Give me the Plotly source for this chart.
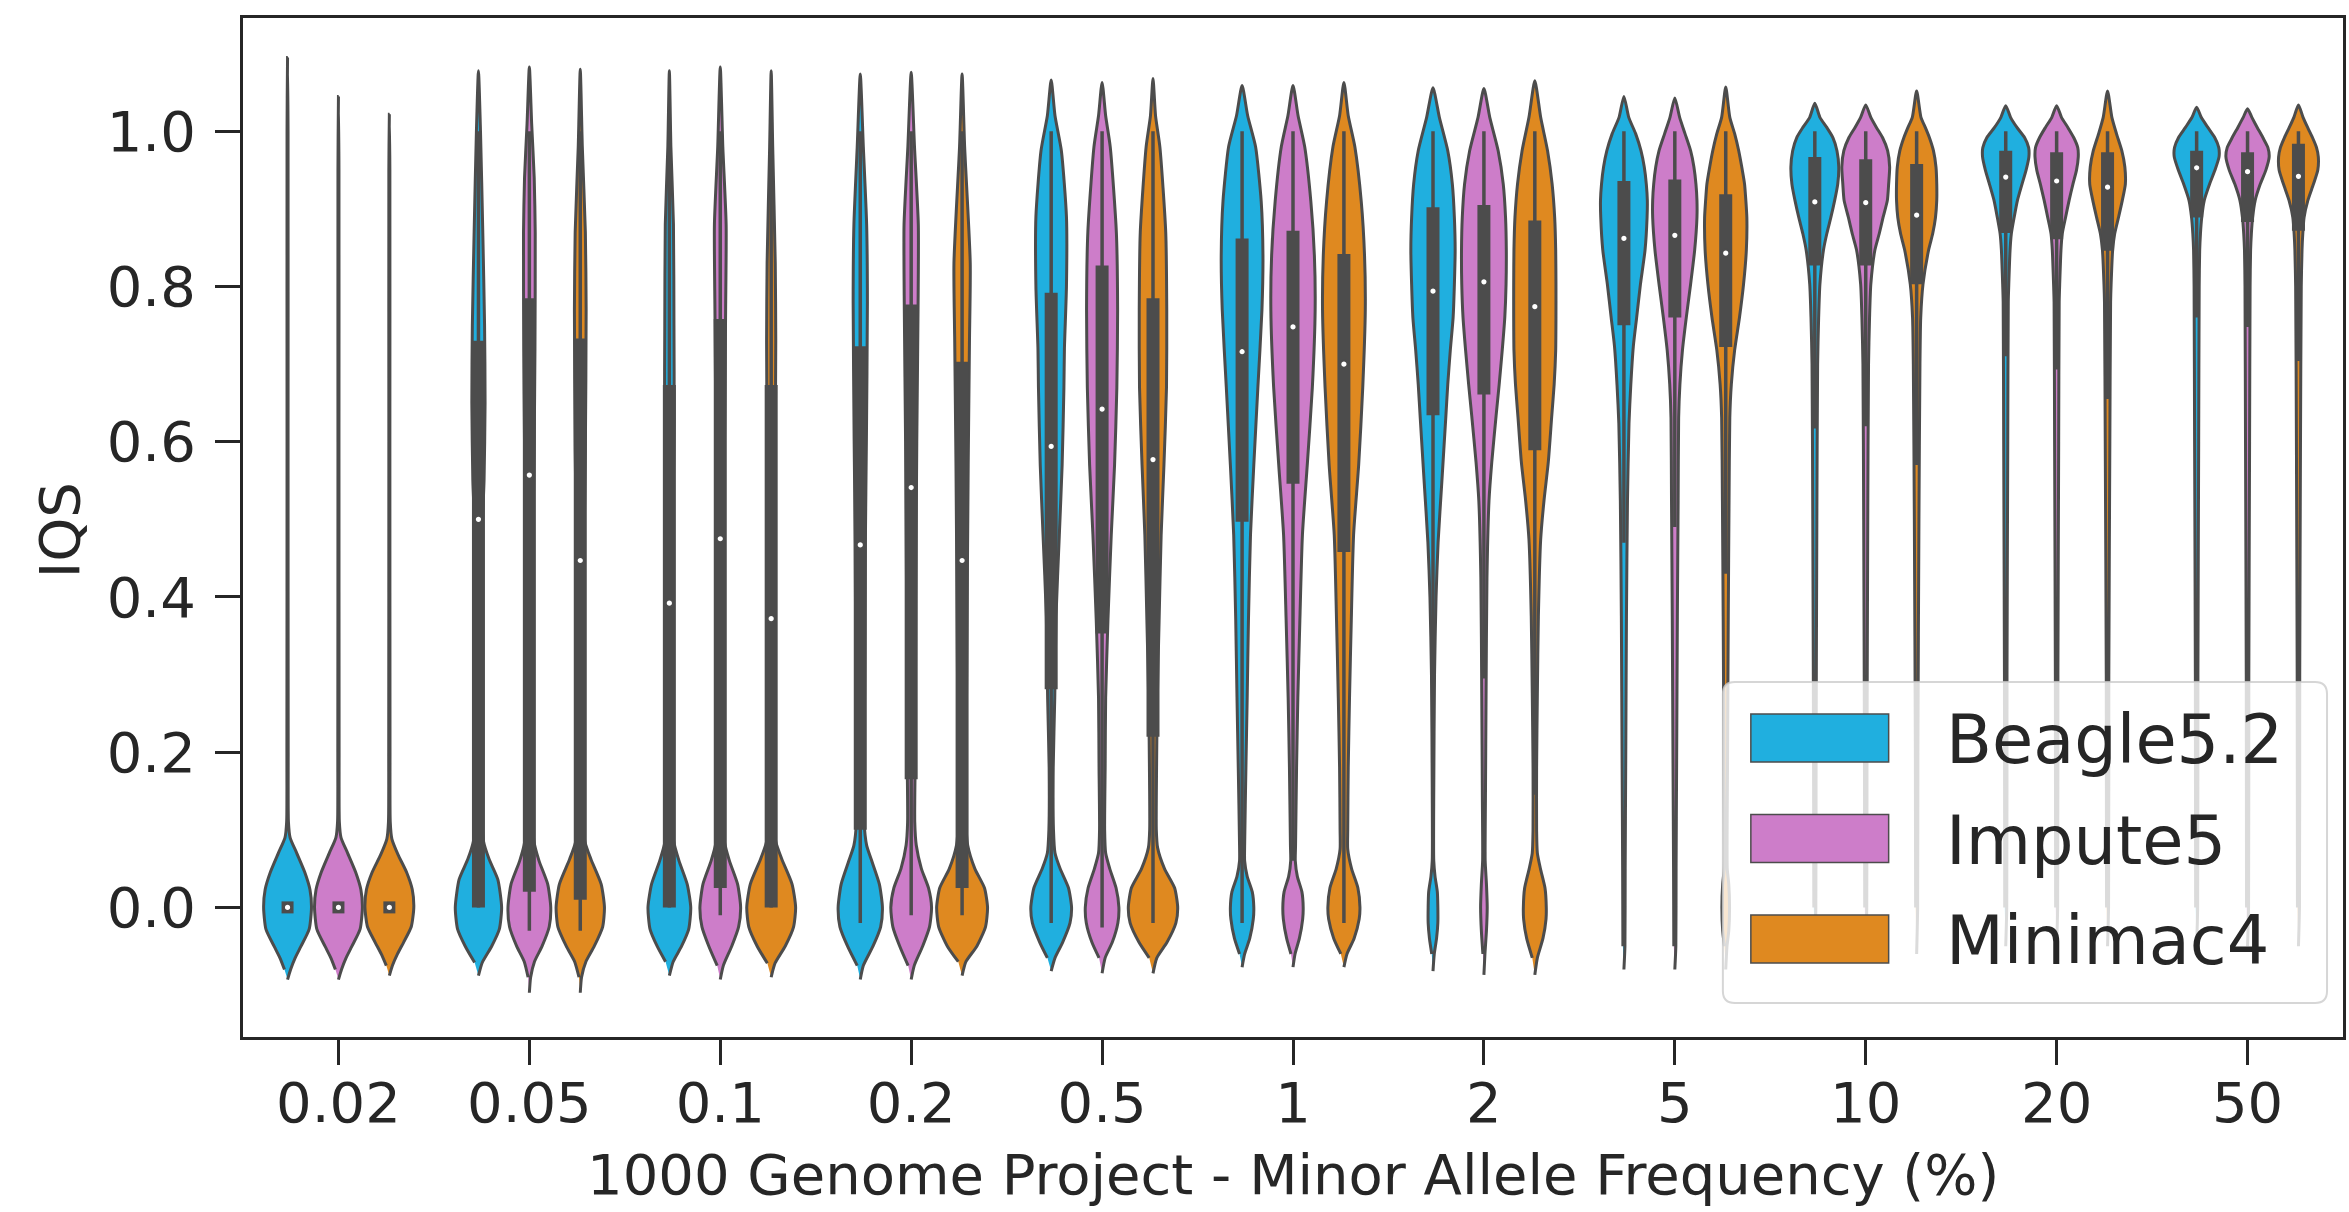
import plotly.graph_objects as go

# ---------------- data ----------------
CATEGORIES = ["0.02", "0.05", "0.1", "0.2", "0.5", "1", "2", "5", "10", "20", "50"]
METHODS = ["Beagle5.2", "Impute5", "Minimac4"]
COLORS = ["#20afdf", "#cd7dc9", "#df8920"]
Y_TICKS = [0.0, 0.2, 0.4, 0.6, 0.8, 1.0]
Y_TICK_TEXT = ["0.0", "0.2", "0.4", "0.6", "0.8", "1.0"]

# violin outlines: (IQS value, relative half-width of the density) per category
BEAGLE_SHAPES = [
    [(-0.093, 0), (-0.08, 0.12), (-0.065, 0.3), (-0.05, 0.53), (-0.028, 0.85), (0.0, 0.94), (0.023, 0.88), (0.045, 0.68), (0.07, 0.36), (0.09, 0.1), (0.11, 0.035), (0.2, 0.025), (0.6, 0.02), (1.0, 0.02), (1.095, 0)],
    [(-0.088, 0), (-0.071, 0.15), (-0.05, 0.52), (-0.028, 0.82), (0.0, 0.91), (0.036, 0.76), (0.062, 0.42), (0.085, 0.2), (0.12, 0.13), (0.2, 0.12), (0.3, 0.12), (0.4, 0.13), (0.49, 0.15), (0.55, 0.22), (0.65, 0.26), (0.75, 0.24), (0.87, 0.17), (1.0, 0.08), (1.078, 0)],
    [(-0.088, 0), (-0.07, 0.15), (-0.05, 0.48), (-0.028, 0.76), (0.0, 0.84), (0.03, 0.7), (0.06, 0.38), (0.085, 0.17), (0.12, 0.11), (0.3, 0.1), (0.45, 0.12), (0.55, 0.16), (0.63, 0.19), (0.75, 0.18), (0.88, 0.16), (0.98, 0.06), (1.078, 0)],
    [(-0.093, 0), (-0.075, 0.12), (-0.05, 0.5), (-0.025, 0.8), (0.0, 0.87), (0.03, 0.75), (0.06, 0.45), (0.08, 0.25), (0.11, 0.15), (0.2, 0.15), (0.28, 0.17), (0.47, 0.2), (0.6, 0.24), (0.78, 0.28), (0.88, 0.25), (0.98, 0.12), (1.074, 0)],
    [(-0.082, 0), (-0.065, 0.15), (-0.045, 0.45), (-0.02, 0.74), (0.0, 0.8), (0.025, 0.68), (0.05, 0.35), (0.07, 0.15), (0.1, 0.09), (0.18, 0.08), (0.27, 0.14), (0.375, 0.19), (0.48, 0.32), (0.57, 0.43), (0.67, 0.5), (0.72, 0.52), (0.8, 0.6), (0.89, 0.6), (0.975, 0.4), (1.02, 0.15), (1.066, 0)],
    [(-0.077, 0), (-0.06, 0.1), (-0.04, 0.3), (-0.015, 0.44), (0.0, 0.46), (0.02, 0.4), (0.04, 0.2), (0.06, 0.1), (0.08, 0.1), (0.18, 0.15), (0.27, 0.2), (0.37, 0.25), (0.48, 0.33), (0.57, 0.46), (0.67, 0.62), (0.77, 0.78), (0.84, 0.82), (0.91, 0.75), (0.98, 0.53), (1.02, 0.22), (1.059, 0)],
    [(-0.082, 0), (-0.06, 0.05), (-0.04, 0.14), (-0.02, 0.19), (0.0, 0.19), (0.02, 0.17), (0.04, 0.08), (0.06, 0.03), (0.15, 0.03), (0.3, 0.06), (0.4, 0.12), (0.47, 0.2), (0.55, 0.35), (0.63, 0.5), (0.674, 0.58), (0.718, 0.68), (0.76, 0.79), (0.803, 0.84), (0.847, 0.87), (0.889, 0.84), (0.932, 0.76), (0.975, 0.58), (1.018, 0.25), (1.056, 0)],
    [(-0.08, 0), (-0.05, 0.04), (0.05, 0.05), (0.18, 0.07), (0.375, 0.1), (0.524, 0.14), (0.624, 0.2), (0.673, 0.27), (0.723, 0.37), (0.76, 0.5), (0.803, 0.65), (0.847, 0.83), (0.889, 0.91), (0.911, 0.92), (0.932, 0.88), (0.954, 0.8), (0.975, 0.67), (0.997, 0.46), (1.018, 0.19), (1.045, 0)],
    [(-0.06, 0), (0.0, 0.04), (0.2, 0.05), (0.5, 0.08), (0.7, 0.11), (0.76, 0.15), (0.803, 0.2), (0.847, 0.34), (0.868, 0.47), (0.889, 0.63), (0.911, 0.78), (0.932, 0.9), (0.954, 0.94), (0.975, 0.87), (0.992, 0.71), (1.005, 0.47), (1.018, 0.2), (1.036, 0)],
    [(-0.05, 0), (0.0, 0.04), (0.3, 0.05), (0.6, 0.08), (0.78, 0.1), (0.803, 0.12), (0.847, 0.17), (0.868, 0.22), (0.889, 0.33), (0.911, 0.46), (0.932, 0.64), (0.95, 0.8), (0.967, 0.91), (0.979, 0.9), (0.992, 0.74), (1.005, 0.44), (1.018, 0.19), (1.033, 0)],
    [(-0.05, 0), (0.0, 0.04), (0.3, 0.05), (0.6, 0.08), (0.8, 0.1), (0.847, 0.12), (0.868, 0.15), (0.889, 0.2), (0.911, 0.3), (0.932, 0.51), (0.95, 0.72), (0.967, 0.88), (0.979, 0.87), (0.992, 0.71), (1.005, 0.44), (1.018, 0.18), (1.031, 0)],
]
IMPUTE_SHAPES = [
    [(-0.093, 0), (-0.08, 0.12), (-0.065, 0.3), (-0.05, 0.53), (-0.028, 0.85), (0.0, 0.94), (0.023, 0.88), (0.045, 0.68), (0.07, 0.36), (0.09, 0.1), (0.11, 0.035), (0.2, 0.025), (0.6, 0.02), (0.95, 0.02), (1.045, 0)],
    [(-0.11, 0), (-0.09, 0.05), (-0.07, 0.2), (-0.05, 0.5), (-0.025, 0.78), (0.0, 0.84), (0.03, 0.72), (0.06, 0.38), (0.085, 0.18), (0.12, 0.12), (0.3, 0.12), (0.5, 0.15), (0.6, 0.19), (0.72, 0.22), (0.87, 0.23), (0.94, 0.19), (1.01, 0.09), (1.083, 0)],
    [(-0.093, 0), (-0.075, 0.12), (-0.05, 0.45), (-0.025, 0.72), (0.0, 0.8), (0.03, 0.68), (0.06, 0.36), (0.085, 0.16), (0.12, 0.11), (0.3, 0.11), (0.5, 0.14), (0.65, 0.18), (0.77, 0.21), (0.88, 0.23), (0.98, 0.1), (1.083, 0)],
    [(-0.093, 0), (-0.075, 0.12), (-0.05, 0.45), (-0.025, 0.72), (0.0, 0.8), (0.025, 0.68), (0.05, 0.4), (0.08, 0.2), (0.11, 0.14), (0.2, 0.16), (0.4, 0.18), (0.6, 0.22), (0.77, 0.27), (0.88, 0.28), (0.98, 0.13), (1.076, 0)],
    [(-0.085, 0), (-0.065, 0.12), (-0.045, 0.4), (-0.02, 0.62), (0.0, 0.66), (0.025, 0.55), (0.05, 0.3), (0.07, 0.14), (0.1, 0.1), (0.18, 0.12), (0.27, 0.14), (0.37, 0.23), (0.48, 0.36), (0.57, 0.49), (0.67, 0.58), (0.77, 0.61), (0.87, 0.56), (0.98, 0.32), (1.02, 0.14), (1.063, 0)],
    [(-0.077, 0), (-0.06, 0.08), (-0.04, 0.25), (-0.015, 0.38), (0.0, 0.4), (0.02, 0.35), (0.04, 0.17), (0.06, 0.09), (0.08, 0.1), (0.18, 0.14), (0.27, 0.19), (0.37, 0.27), (0.48, 0.37), (0.57, 0.56), (0.67, 0.76), (0.77, 0.87), (0.84, 0.84), (0.91, 0.7), (0.98, 0.46), (1.02, 0.2), (1.059, 0)],
    [(-0.087, 0), (-0.06, 0.04), (-0.03, 0.1), (0.0, 0.13), (0.03, 0.1), (0.06, 0.05), (0.14, 0.06), (0.276, 0.085), (0.425, 0.12), (0.524, 0.2), (0.574, 0.31), (0.634, 0.48), (0.674, 0.6), (0.718, 0.72), (0.76, 0.82), (0.803, 0.87), (0.847, 0.88), (0.889, 0.85), (0.932, 0.76), (0.975, 0.56), (1.018, 0.23), (1.055, 0)],
    [(-0.08, 0), (-0.05, 0.04), (0.05, 0.05), (0.18, 0.07), (0.375, 0.1), (0.524, 0.13), (0.631, 0.15), (0.674, 0.2), (0.718, 0.3), (0.76, 0.45), (0.803, 0.62), (0.847, 0.78), (0.889, 0.87), (0.911, 0.87), (0.932, 0.83), (0.954, 0.75), (0.975, 0.62), (0.997, 0.4), (1.018, 0.19), (1.043, 0)],
    [(-0.06, 0), (0.0, 0.04), (0.2, 0.05), (0.5, 0.08), (0.7, 0.11), (0.76, 0.15), (0.803, 0.2), (0.847, 0.36), (0.868, 0.53), (0.889, 0.68), (0.911, 0.85), (0.932, 0.9), (0.954, 0.94), (0.975, 0.86), (0.992, 0.66), (1.005, 0.42), (1.018, 0.2), (1.034, 0)],
    [(-0.05, 0), (0.0, 0.04), (0.3, 0.05), (0.6, 0.08), (0.78, 0.1), (0.803, 0.12), (0.847, 0.17), (0.868, 0.22), (0.889, 0.35), (0.911, 0.49), (0.932, 0.64), (0.95, 0.78), (0.967, 0.85), (0.979, 0.83), (0.992, 0.67), (1.005, 0.44), (1.018, 0.19), (1.033, 0)],
    [(-0.05, 0), (0.0, 0.04), (0.3, 0.05), (0.6, 0.08), (0.8, 0.1), (0.847, 0.12), (0.868, 0.15), (0.889, 0.2), (0.911, 0.3), (0.932, 0.5), (0.95, 0.72), (0.967, 0.85), (0.979, 0.8), (0.992, 0.6), (1.005, 0.38), (1.018, 0.17), (1.029, 0)],
]
MINIMAC_SHAPES = [
    [(-0.088, 0), (-0.075, 0.12), (-0.06, 0.32), (-0.045, 0.56), (-0.025, 0.86), (0.0, 0.96), (0.023, 0.9), (0.045, 0.68), (0.068, 0.34), (0.088, 0.1), (0.11, 0.035), (0.2, 0.025), (0.6, 0.02), (0.95, 0.02), (1.022, 0)],
    [(-0.11, 0), (-0.09, 0.05), (-0.07, 0.22), (-0.05, 0.55), (-0.025, 0.88), (0.0, 0.95), (0.03, 0.82), (0.062, 0.42), (0.085, 0.18), (0.12, 0.12), (0.3, 0.12), (0.47, 0.15), (0.59, 0.2), (0.77, 0.23), (0.87, 0.2), (0.98, 0.08), (1.08, 0)],
    [(-0.09, 0), (-0.072, 0.15), (-0.05, 0.55), (-0.025, 0.88), (0.0, 0.96), (0.03, 0.82), (0.062, 0.42), (0.085, 0.18), (0.12, 0.11), (0.3, 0.1), (0.45, 0.12), (0.6, 0.16), (0.73, 0.18), (0.83, 0.16), (0.98, 0.06), (1.078, 0)],
    [(-0.088, 0), (-0.07, 0.15), (-0.05, 0.58), (-0.025, 0.92), (0.0, 1.0), (0.025, 0.88), (0.05, 0.5), (0.08, 0.22), (0.11, 0.15), (0.3, 0.18), (0.57, 0.24), (0.73, 0.29), (0.83, 0.32), (0.98, 0.1), (1.074, 0)],
    [(-0.085, 0), (-0.065, 0.15), (-0.045, 0.55), (-0.02, 0.9), (0.0, 0.97), (0.025, 0.85), (0.05, 0.45), (0.077, 0.18), (0.1, 0.13), (0.18, 0.14), (0.27, 0.17), (0.37, 0.24), (0.48, 0.32), (0.57, 0.43), (0.67, 0.53), (0.77, 0.54), (0.87, 0.5), (0.98, 0.27), (1.02, 0.1), (1.068, 0)],
    [(-0.077, 0), (-0.06, 0.12), (-0.04, 0.4), (-0.015, 0.6), (0.0, 0.63), (0.025, 0.55), (0.05, 0.3), (0.075, 0.15), (0.1, 0.15), (0.18, 0.17), (0.27, 0.22), (0.37, 0.29), (0.48, 0.38), (0.57, 0.58), (0.67, 0.74), (0.77, 0.84), (0.84, 0.81), (0.91, 0.68), (0.98, 0.43), (1.02, 0.17), (1.063, 0)],
    [(-0.087, 0), (-0.065, 0.1), (-0.04, 0.32), (-0.015, 0.44), (0.0, 0.45), (0.025, 0.4), (0.05, 0.22), (0.07, 0.1), (0.1, 0.07), (0.18, 0.07), (0.276, 0.1), (0.375, 0.14), (0.474, 0.23), (0.524, 0.36), (0.574, 0.53), (0.631, 0.66), (0.674, 0.76), (0.718, 0.82), (0.76, 0.83), (0.803, 0.83), (0.847, 0.82), (0.889, 0.78), (0.932, 0.68), (0.975, 0.5), (1.018, 0.23), (1.065, 0)],
    [(-0.08, 0), (-0.05, 0.05), (-0.03, 0.12), (0.0, 0.15), (0.03, 0.12), (0.05, 0.06), (0.18, 0.07), (0.375, 0.1), (0.524, 0.13), (0.631, 0.16), (0.674, 0.22), (0.718, 0.35), (0.76, 0.54), (0.803, 0.7), (0.847, 0.81), (0.889, 0.83), (0.911, 0.79), (0.932, 0.74), (0.954, 0.63), (0.975, 0.51), (0.997, 0.35), (1.018, 0.16), (1.057, 0)],
    [(-0.06, 0), (0.0, 0.04), (0.2, 0.05), (0.5, 0.09), (0.7, 0.13), (0.76, 0.16), (0.803, 0.25), (0.847, 0.47), (0.868, 0.63), (0.889, 0.74), (0.911, 0.79), (0.932, 0.79), (0.954, 0.76), (0.975, 0.66), (0.992, 0.5), (1.005, 0.34), (1.018, 0.17), (1.052, 0)],
    [(-0.05, 0), (0.0, 0.04), (0.3, 0.05), (0.6, 0.09), (0.78, 0.12), (0.803, 0.14), (0.847, 0.2), (0.868, 0.28), (0.889, 0.43), (0.911, 0.58), (0.932, 0.7), (0.954, 0.68), (0.975, 0.56), (0.997, 0.35), (1.018, 0.17), (1.052, 0)],
    [(-0.05, 0), (0.0, 0.04), (0.3, 0.05), (0.6, 0.08), (0.8, 0.11), (0.847, 0.14), (0.868, 0.17), (0.889, 0.22), (0.911, 0.37), (0.932, 0.59), (0.95, 0.76), (0.967, 0.78), (0.979, 0.71), (0.992, 0.55), (1.005, 0.36), (1.018, 0.18), (1.034, 0)],
]

# inner box statistics per category
BEAGLE_MEDIAN = [0.0, 0.50, 0.392, 0.467, 0.594, 0.716, 0.794, 0.862, 0.909, 0.941, 0.953]
BEAGLE_Q1 = [0.0, 0.0, 0.0, 0.10, 0.281, 0.497, 0.634, 0.75, 0.827, 0.869, 0.889]
BEAGLE_Q3 = [0.0, 0.73, 0.673, 0.723, 0.792, 0.862, 0.902, 0.936, 0.967, 0.975, 0.975]
BEAGLE_WLO = [0.0, 0.0, 0.0, -0.02, -0.02, -0.02, 0.232, 0.47, 0.617, 0.71, 0.76]
BEAGLE_WHI = [0.0, 1.0, 1.0, 1.0, 1.0, 1.0, 1.0, 1.0, 1.0, 1.0, 1.0]

IMPUTE_MEDIAN = [0.0, 0.557, 0.475, 0.541, 0.642, 0.748, 0.806, 0.866, 0.908, 0.936, 0.948]
IMPUTE_Q1 = [0.0, 0.02, 0.025, 0.165, 0.353, 0.546, 0.661, 0.76, 0.827, 0.861, 0.883]
IMPUTE_Q3 = [0.0, 0.785, 0.758, 0.777, 0.827, 0.872, 0.905, 0.938, 0.964, 0.973, 0.973]
IMPUTE_WLO = [0.0, -0.03, -0.01, -0.01, -0.026, 0.06, 0.295, 0.49, 0.62, 0.693, 0.748]
IMPUTE_WHI = [0.0, 1.0, 1.0, 1.0, 1.0, 1.0, 1.0, 1.0, 1.0, 1.0, 1.0]

MINIMAC_MEDIAN = [0.0, 0.447, 0.372, 0.447, 0.577, 0.70, 0.774, 0.843, 0.892, 0.928, 0.942]
MINIMAC_Q1 = [0.0, 0.01, 0.0, 0.025, 0.22, 0.458, 0.589, 0.722, 0.803, 0.846, 0.872]
MINIMAC_Q3 = [0.0, 0.733, 0.673, 0.703, 0.785, 0.842, 0.885, 0.919, 0.958, 0.973, 0.984]
MINIMAC_WLO = [0.0, -0.03, 0.0, -0.01, -0.02, -0.02, 0.145, 0.43, 0.57, 0.655, 0.704]
MINIMAC_WHI = [0.0, 1.0, 1.0, 1.0, 1.0, 1.0, 1.0, 1.0, 1.0, 1.0, 1.0]

SHAPES = [BEAGLE_SHAPES, IMPUTE_SHAPES, MINIMAC_SHAPES]
STATS = [
    (BEAGLE_Q1, BEAGLE_MEDIAN, BEAGLE_Q3, BEAGLE_WLO, BEAGLE_WHI),
    (IMPUTE_Q1, IMPUTE_MEDIAN, IMPUTE_Q3, IMPUTE_WLO, IMPUTE_WHI),
    (MINIMAC_Q1, MINIMAC_MEDIAN, MINIMAC_Q3, MINIMAC_WLO, MINIMAC_WHI),
]

# ---------------- styling ----------------
EDGE = "#4c4c4c"
INK = "#262626"
FONT = "DejaVu Sans"
W, H = 2349, 1212
ML, MR, MT, MB = 243, 3, 18, 175
PW, PH = W - ML - MR, H - MT - MB
BOX_PX = 13

GROUP_WIDTH = 0.8
NH = len(METHODS)
VIOLIN_W = GROUP_WIDTH / NH
HALF = VIOLIN_W / 2
OFFSETS = [-GROUP_WIDTH / 2 + VIOLIN_W * (k + 0.5) for k in range(NH)]

fig = go.Figure()

for i, cat in enumerate(CATEGORIES):
    for k, m in enumerate(METHODS):
        cx = i + OFFSETS[k]
        shape = SHAPES[k][i]
        ys = [p[0] for p in shape]
        ws = [p[1] for p in shape]
        xs_r = [cx + w * HALF for w in ws]
        xs_l = [cx - w * HALF for w in ws[1:-1]][::-1]
        px = xs_r + xs_l
        py = ys + ys[1:-1][::-1]
        fig.add_trace(go.Scatter(
            x=px, y=py, mode="lines", fill="toself", fillcolor=COLORS[k],
            line=dict(color=EDGE, width=3, shape="spline", smoothing=0.6),
            hoverinfo="skip", showlegend=False))
        q1, med, q3, wlo, whi = (s[i] for s in STATS[k])
        if whi > wlo:
            fig.add_trace(go.Scatter(
                x=[cx, cx], y=[wlo, whi], mode="lines",
                line=dict(color=EDGE, width=3.5), hoverinfo="skip", showlegend=False))
        if q3 > q1:
            fig.add_trace(go.Scatter(
                x=[cx, cx], y=[q1, q3], mode="lines",
                line=dict(color=EDGE, width=BOX_PX), hoverinfo="skip", showlegend=False))
        else:
            # zero-length box: matplotlib's projecting cap leaves a small square
            fig.add_trace(go.Scatter(
                x=[cx], y=[q1], mode="markers",
                marker=dict(symbol="square", color=EDGE, size=BOX_PX - 1, line=dict(width=0)),
                hoverinfo="skip", showlegend=False))
        fig.add_trace(go.Scatter(
            x=[cx], y=[med], mode="markers",
            marker=dict(color="white", size=7, line=dict(color=EDGE, width=1.8)),
            hoverinfo="skip", showlegend=False))


def pxx(v):
    return (v - ML) / PW


def pxy(v):
    return (H - MB - v) / PH


# ---------------- manual legend (matplotlib-like) ----------------
lx0, lx1, ly0, ly1 = 1725, 2330, 682, 1003
r = 12
rx, ry = r / PW, r / PH
X0, X1, Y0, Y1 = pxx(lx0), pxx(lx1), pxy(ly1), pxy(ly0)
path = (f"M {X0+rx},{Y0} L {X1-rx},{Y0} Q {X1},{Y0} {X1},{Y0+ry} "
        f"L {X1},{Y1-ry} Q {X1},{Y1} {X1-rx},{Y1} L {X0+rx},{Y1} "
        f"Q {X0},{Y1} {X0},{Y1-ry} L {X0},{Y0+ry} Q {X0},{Y0} {X0+rx},{Y0} Z")
shapes = [dict(type="path", path=path, xref="paper", yref="paper",
               fillcolor="rgba(255,255,255,0.8)",
               line=dict(color="rgba(204,204,204,0.8)", width=2), layer="above")]
annotations = []
row_centers = [738, 838.5, 939]
for k, m in enumerate(METHODS):
    cy = row_centers[k]
    shapes.append(dict(type="rect", xref="paper", yref="paper",
                       x0=pxx(1753), x1=pxx(1891), y0=pxy(cy + 24), y1=pxy(cy - 24),
                       fillcolor=COLORS[k], line=dict(color=EDGE, width=1.5), layer="above"))
    annotations.append(dict(text=m, x=pxx(1946), y=pxy(cy + 2), xref="paper", yref="paper",
                            xanchor="left", yanchor="middle", showarrow=False,
                            font=dict(family=FONT, size=67, color=INK)))

# axis titles
annotations.append(dict(text="1000 Genome Project - Minor Allele Frequency (%)",
                        x=0.5, y=pxy(1174), xref="paper", yref="paper",
                        xanchor="center", yanchor="middle", showarrow=False,
                        font=dict(family=FONT, size=56, color=INK)))
annotations.append(dict(text="IQS", x=pxx(59), y=pxy(530), xref="paper", yref="paper",
                        xanchor="center", yanchor="middle", showarrow=False, textangle=-90,
                        font=dict(family=FONT, size=56, color=INK)))

fig.update_layout(
    width=W, height=H, margin=dict(l=ML, r=MR, t=MT, b=MB, pad=0),
    paper_bgcolor="white", plot_bgcolor="white", showlegend=False,
    shapes=shapes, annotations=annotations,
    font=dict(family=FONT, color=INK),
)
fig.update_xaxes(range=[-0.5, len(CATEGORIES) - 0.5], tickmode="array",
                 tickvals=list(range(len(CATEGORIES))), ticktext=CATEGORIES,
                 ticks="outside", ticklen=25, tickwidth=3, tickcolor=INK,
                 showline=True, linewidth=3, linecolor=INK, mirror=True,
                 showgrid=False, zeroline=False, ticklabelstandoff=-10,
                 tickfont=dict(family=FONT, size=56, color=INK))
fig.update_yaxes(range=[-0.167, 1.146], tickmode="array",
                 tickvals=Y_TICKS, ticktext=Y_TICK_TEXT,
                 ticks="outside", ticklen=25, tickwidth=3, tickcolor=INK,
                 showline=True, linewidth=3, linecolor=INK, mirror=True,
                 showgrid=False, zeroline=False, ticklabelstandoff=8,
                 tickfont=dict(family=FONT, size=56, color=INK))

fig.write_html("out.html")
